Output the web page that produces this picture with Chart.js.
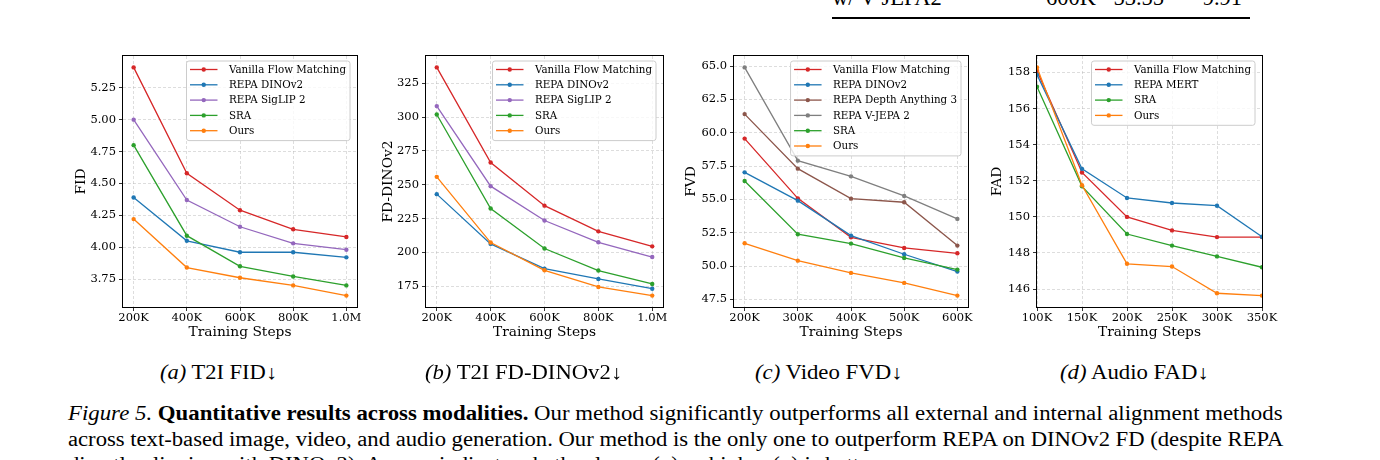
<!DOCTYPE html>
<html lang="en">

<head>
  <meta charset="UTF-8" />
  <title>Figure 5 - Quantitative results across modalities</title>
  <script src="https://cdn.jsdelivr.net/npm/chart.js"></script>

  <style>
    body {
      margin: 0;
      background: #fff;
    }

    .page {
      position: relative;
      width: 1380px;
      height: 460px;
      overflow: hidden;
      background: #fff;
      color: #000;
      font-family: "Liberation Serif", "Times New Roman", serif;
    }

    .page canvas {
      position: absolute;
      top: 40px;
    }

    .tbl {
      position: absolute;
      top: -12.85px;
      font-size: 22.5px;
      line-height: 22.5px;
      white-space: nowrap;
    }

    .rule {
      position: absolute;
      left: 832px;
      top: 17px;
      width: 418px;
      height: 2px;
      background: #000;
    }

    .sub,
    .cap {
      position: absolute;
      font-size: 20px;
      line-height: 20px;
      white-space: nowrap;
      transform-origin: left top;
    }

    .sub {
      top: 362px;
    }

    .cap {
      left: 68px;
    }
  </style>
</head>

<body>
  <div class="page">
    <!-- bottom of the table that sits above the figure -->
    <div class="tbl" style="left:832px">w/ V-JEPA2</div>
    <div class="tbl" style="right:284px">600K</div>
    <div class="tbl" style="right:216px">53.55</div>
    <div class="tbl" style="right:138px">9.91</div>
    <div class="rule"></div>

    <canvas id="fidChart" width="324" height="300" style="left:63px"></canvas>
    <canvas id="fdChart" width="327" height="300" style="left:366px"></canvas>
    <canvas id="fvdChart" width="324" height="300" style="left:674px"></canvas>
    <canvas id="fadChart" width="315" height="300" style="left:977px"></canvas>

    <div class="sub" data-w="117" style="left:160px"><i>(a)</i> T2I FID↓</div>
    <div class="sub" data-w="197" style="left:425px"><i>(b)</i> T2I FD-DINOv2↓</div>
    <div class="sub" data-w="148" style="left:755px"><i>(c)</i> Video FVD↓</div>
    <div class="sub" data-w="149" style="left:1060px"><i>(d)</i> Audio FAD↓</div>

    <div class="cap" data-w="1214" style="top:403px"><i>Figure 5.</i> <b>Quantitative results across modalities.</b> Our method significantly outperforms all external and internal alignment methods</div>
    <div class="cap" data-w="1215" style="top:429px">across text-based image, video, and audio generation. Our method is the only one to outperform REPA on DINOv2 FD (despite REPA</div>
    <div class="cap" style="top:454px">directly aligning with DINOv2). Arrows indicate whether lower (↓) or higher (↑) is better.</div>
  </div>

  <script>
    // ---- data ----
    const t2iSteps = [200000, 400000, 600000, 800000, 1000000];
    const t2iStepLabels = ['200K', '400K', '600K', '800K', '1.0M'];

    const fidVanilla = [5.41, 4.58, 4.29, 4.14, 4.08];
    const fidDinov2 = [4.39, 4.05, 3.96, 3.96, 3.92];
    const fidSiglip = [5.00, 4.37, 4.16, 4.03, 3.98];
    const fidSra = [4.80, 4.09, 3.85, 3.77, 3.70];
    const fidOurs = [4.22, 3.84, 3.76, 3.70, 3.62];
    const fidTicks = [3.75, 4.00, 4.25, 4.50, 4.75, 5.00, 5.25];

    const fdVanilla = [336.8, 266.5, 234.6, 215.6, 204.5];
    const fdDinov2 = [243.1, 206.3, 188.0, 180.4, 173.2];
    const fdSiglip = [308.2, 249.0, 223.6, 207.5, 196.6];
    const fdSra = [302.0, 232.5, 202.9, 186.6, 176.7];
    const fdOurs = [255.9, 207.3, 186.8, 174.5, 168.1];
    const fdTicks = [175, 200, 225, 250, 275, 300, 325];

    const videoSteps = [200000, 300000, 400000, 500000, 600000];
    const videoStepLabels = ['200K', '300K', '400K', '500K', '600K'];

    const fvdVanilla = [59.56, 55.08, 52.16, 51.36, 50.96];
    const fvdDinov2 = [57.03, 54.91, 52.29, 50.89, 49.59];
    const fvdDepth = [61.40, 57.31, 55.06, 54.79, 51.54];
    const fvdVjepa = [64.90, 57.91, 56.73, 55.26, 53.54];
    const fvdSra = [56.38, 52.39, 51.69, 50.61, 49.74];
    const fvdOurs = [51.71, 50.41, 49.49, 48.74, 47.79];
    const fvdTicks = [47.5, 50.0, 52.5, 55.0, 57.5, 60.0, 62.5, 65.0];

    const audioSteps = [100000, 150000, 200000, 250000, 300000, 350000];
    const audioStepLabels = ['100K', '150K', '200K', '250K', '300K', '350K'];

    const fadVanilla = [158.09, 152.46, 150.00, 149.25, 148.88, 148.88];
    const fadMert = [157.87, 152.66, 151.05, 150.77, 150.62, 148.90];
    const fadSra = [157.21, 151.69, 149.05, 148.41, 147.81, 147.21];
    const fadOurs = [158.28, 151.75, 147.40, 147.25, 145.77, 145.64];
    const fadTicks = [146, 148, 150, 152, 154, 156, 158];

    // matplotlib tab10 colours
    const red = '#d62728', blue = '#1f77b4', purple = '#9467bd', green = '#2ca02c',
      orange = '#ff7f0e', brown = '#8c564b', gray = '#7f7f7f';
    const gridColor = 'rgba(176,176,176,0.55)';

    Chart.defaults.font.family = '"DejaVu Serif", serif';
    Chart.defaults.color = '#000';

    // black frame around the plot area + matplotlib style legend in the upper right
    const frameAndLegend = {
      id: 'frameAndLegend',
      afterDraw(chart) {
        const ctx = chart.ctx;
        const area = chart.chartArea;
        ctx.save();
        ctx.strokeStyle = '#000';
        ctx.lineWidth = 1;
        ctx.strokeRect(area.left - 0.5, area.top - 0.5, area.right - area.left + 1, area.bottom - area.top + 1);

        const sets = chart.data.datasets;
        ctx.font = '10.3px "DejaVu Serif"';
        const textW = Math.max(...sets.map(d => ctx.measureText(d.label).width));
        const rowH = 15.3;
        const boxW = textW + 46.5;
        const boxH = 18.4 + (sets.length - 1) * rowH;
        const boxX = area.right - 7 - boxW;
        const boxY = area.top + 5;

        ctx.beginPath();
        ctx.roundRect(boxX, boxY, boxW, boxH, 2.5);
        ctx.fillStyle = 'rgba(255,255,255,0.8)';
        ctx.fill();
        ctx.strokeStyle = '#cccccc';
        ctx.lineWidth = 1;
        ctx.stroke();

        sets.forEach((d, i) => {
          const y = boxY + 8.5 + i * rowH;
          ctx.strokeStyle = d.borderColor;
          ctx.lineWidth = 1.3;
          ctx.beginPath();
          ctx.moveTo(boxX + 3.5, y);
          ctx.lineTo(boxX + 31, y);
          ctx.stroke();
          ctx.fillStyle = d.borderColor;
          ctx.beginPath();
          ctx.arc(boxX + 17.25, y, 2.2, 0, Math.PI * 2);
          ctx.fill();
          ctx.fillStyle = '#000';
          ctx.textBaseline = 'middle';
          ctx.textAlign = 'left';
          ctx.fillText(d.label, boxX + 42.5, y + 0.5);
        });
        ctx.restore();
      }
    };

    function makeChart(canvasId, cfg) {
      const xs = cfg.steps;
      const xSpan = xs[xs.length - 1] - xs[0];
      const allY = cfg.series.flatMap(s => s.values);
      const yMin = Math.min(...allY);
      const yMax = Math.max(...allY);
      const ySpan = yMax - yMin;

      const gridOpts = { color: gridColor, lineWidth: 0.8, borderDash: [3, 2], tickColor: '#000', tickLength: 4, tickWidth: 0.8 };
      const borderOpts = { display: false, dash: [3, 2] };

      return new Chart(document.getElementById(canvasId), {
        type: 'line',
        data: {
          datasets: cfg.series.map((s, i) => ({
            label: s.label,
            data: xs.map((x, j) => ({ x: x, y: s.values[j] })),
            borderColor: s.color,
            backgroundColor: s.color,
            pointBackgroundColor: s.color,
            pointBorderWidth: 0,
            pointRadius: 2.2,
            borderWidth: 1.3,
            tension: 0,
            fill: false,
            order: cfg.series.length - i
          }))
        },
        options: {
          responsive: false,
          animation: false,
          events: [],
          layout: { padding: { left: 60 - cfg.yAxisWidth, right: 30, top: 16, bottom: 1 } },
          plugins: {
            legend: { display: false },
            tooltip: { enabled: false }
          },
          scales: {
            x: {
              type: 'linear',
              min: xs[0] - cfg.xMargin * xSpan,
              max: xs[xs.length - 1] + cfg.xMargin * xSpan,
              afterBuildTicks: axis => { axis.ticks = xs.map(v => ({ value: v })); },
              afterFit: axis => { axis.height = 32; },
              ticks: {
                font: { size: 11.5, lineHeight: 1 },
                padding: 1,
                maxRotation: 0,
                autoSkip: false,
                callback: v => cfg.stepLabels[xs.indexOf(v)]
              },
              grid: gridOpts,
              border: borderOpts,
              title: { display: true, text: 'Training Steps', font: { size: 13.8, lineHeight: 1 }, padding: 0 }
            },
            y: {
              type: 'linear',
              min: yMin - 0.05 * ySpan,
              max: yMax + 0.05 * ySpan,
              afterBuildTicks: axis => { axis.ticks = cfg.yTicks.map(v => ({ value: v })); },
              afterFit: axis => { axis.width = cfg.yAxisWidth; },
              ticks: {
                font: { size: 11.5 },
                padding: 3,
                callback: v => v.toFixed(cfg.yDigits)
              },
              grid: gridOpts,
              border: borderOpts,
              title: { display: true, text: cfg.yTitle, font: { size: 13.8, lineHeight: 1 }, padding: 0 }
            }
          }
        },
        plugins: [frameAndLegend]
      });
    }

    makeChart('fidChart', {
      steps: t2iSteps, stepLabels: t2iStepLabels, xMargin: 0.05,
      yTicks: fidTicks, yDigits: 2, yTitle: 'FID', yAxisWidth: 48,
      series: [
        { label: 'Vanilla Flow Matching', values: fidVanilla, color: red },
        { label: 'REPA DINOv2', values: fidDinov2, color: blue },
        { label: 'REPA SigLIP 2', values: fidSiglip, color: purple },
        { label: 'SRA', values: fidSra, color: green },
        { label: 'Ours', values: fidOurs, color: orange }
      ]
    });

    makeChart('fdChart', {
      steps: t2iSteps, stepLabels: t2iStepLabels, xMargin: 0.05,
      yTicks: fdTicks, yDigits: 0, yTitle: 'FD-DINOv2', yAxisWidth: 44,
      series: [
        { label: 'Vanilla Flow Matching', values: fdVanilla, color: red },
        { label: 'REPA DINOv2', values: fdDinov2, color: blue },
        { label: 'REPA SigLIP 2', values: fdSiglip, color: purple },
        { label: 'SRA', values: fdSra, color: green },
        { label: 'Ours', values: fdOurs, color: orange }
      ]
    });

    makeChart('fvdChart', {
      steps: videoSteps, stepLabels: videoStepLabels, xMargin: 0.05,
      yTicks: fvdTicks, yDigits: 1, yTitle: 'FVD', yAxisWidth: 49,
      series: [
        { label: 'Vanilla Flow Matching', values: fvdVanilla, color: red },
        { label: 'REPA DINOv2', values: fvdDinov2, color: blue },
        { label: 'REPA Depth Anything 3', values: fvdDepth, color: brown },
        { label: 'REPA V-JEPA 2', values: fvdVjepa, color: gray },
        { label: 'SRA', values: fvdSra, color: green },
        { label: 'Ours', values: fvdOurs, color: orange }
      ]
    });

    makeChart('fadChart', {
      steps: audioSteps, stepLabels: audioStepLabels, xMargin: 0,
      yTicks: fadTicks, yDigits: 0, yTitle: 'FAD', yAxisWidth: 46,
      series: [
        { label: 'Vanilla Flow Matching', values: fadVanilla, color: red },
        { label: 'REPA MERT', values: fadMert, color: blue },
        { label: 'SRA', values: fadSra, color: green },
        { label: 'Ours', values: fadOurs, color: orange }
      ]
    });

    // stretch caption lines horizontally to the widths they have in the figure;
    // a line without a width keeps the stretch of the line above it
    function fitText() {
      let scale = 1;
      document.querySelectorAll('.sub, .cap').forEach(el => {
        if (el.dataset.w) scale = Number(el.dataset.w) / el.offsetWidth;
        el.style.transform = 'scaleX(' + scale + ')';
      });
    }
    fitText();
  </script>
</body>

</html>
